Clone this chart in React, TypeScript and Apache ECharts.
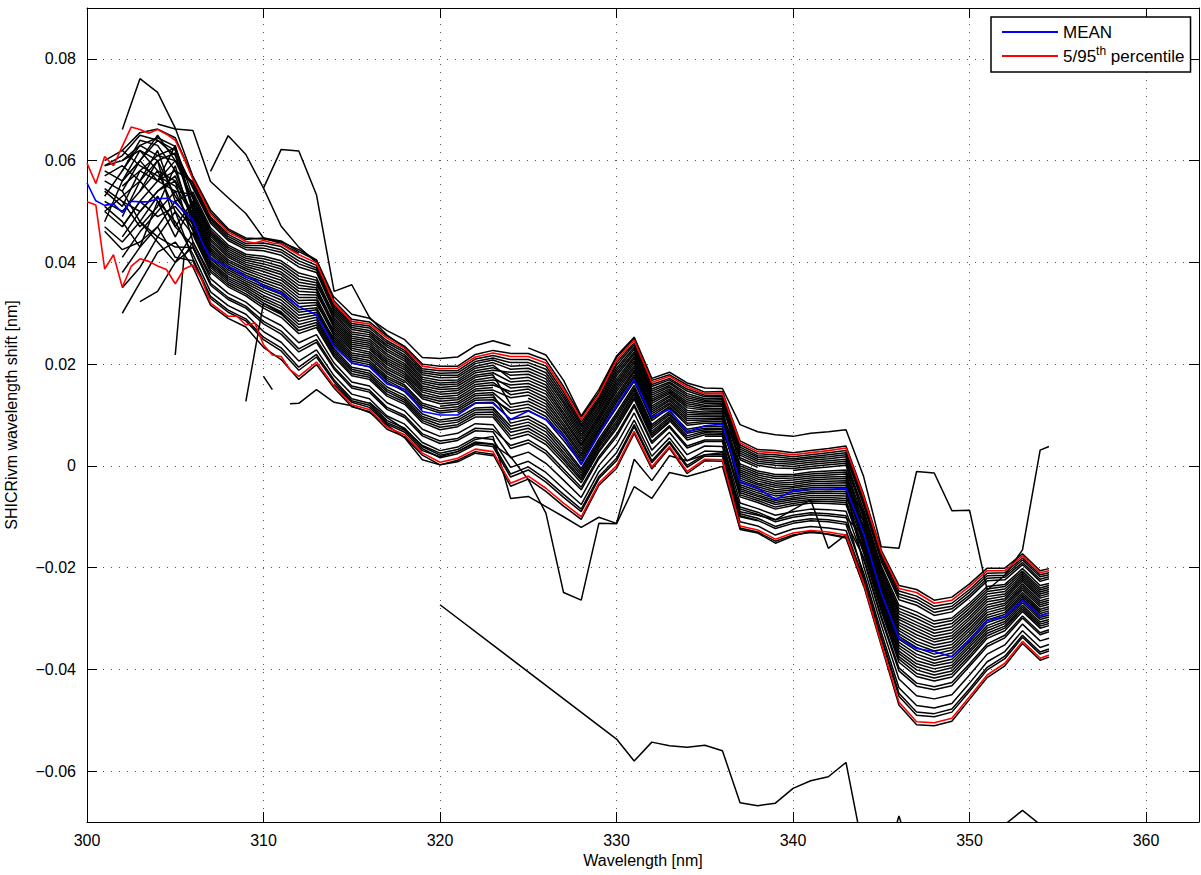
import React, { useEffect, useRef } from "react";
import * as echarts from "echarts";

// Values are in units of 1e-4 nm (converted when the series are built)
const SCALE = 1e-4;
const FONT = '"Liberation Sans", Arial, Helvetica, sans-serif';

// wavelength grid of the individual retrievals
const WL = [300,301,302,303,304,305,306,307,308,309,310,311,312,313,314,315,316,317,318,319,320,321,322,323,324,325,326,327,328,329,330,331,332,333,334,335,336,337,338,339,340,341,342,343,344,345,346,347,348,349,350,351,352,353,354,354.5];

// wavelength grid of the statistics (mean / percentiles)
const STAT_WL = [300,300.5,301,301.5,302,302.5,303,303.5,304,304.5,305,305.5,306,306.5,307,307.5,308,308.5,309,309.5,310,310.5,311,311.5,312,313,314,315,316,317,318,319,320,321,322,323,324,325,326,327,328,329,330,331,332,333,334,335,336,337,338,339,340,341,342,343,344,345,346,347,348,349,350,351,352,353,354,354.5];

const MEAN = [556,521,512,515,498,520,519,519,525,526,517,500,484,441,407,399,391,384,371,366,353,346,340,327,313,297,235,202,195,161,150,107,100,100,123,123,91,108,91,58,2,62,119,170,96,111,66,79,82,-31,-44,-66,-49,-46,-46,-44,-133,-250,-339,-359,-365,-375,-342,-304,-296,-264,-295,-289];
const P95 = [595,555,608,590,628,666,661,654,661,652,640,604,563,530,494,477,459,451,441,438,443,438,436,425,415,399,320,284,279,251,231,196,191,192,214,222,215,215,202,150,91,140,208,247,164,176,155,142,143,45,28,26,22,26,30,35,-60,-170,-241,-249,-270,-264,-237,-206,-206,-177,-210,-206];
const P5 = [519,513,387,415,351,392,407,402,393,386,358,387,395,366,320,307,294,294,277,281,238,218,215,189,176,204,157,120,111,76,61,25,7,15,33,28,-34,-20,-44,-73,-100,-34,0,68,-2,38,-11,13,12,-118,-126,-144,-132,-127,-130,-136,-231,-349,-464,-503,-505,-496,-454,-411,-388,-345,-378,-372];

// individual retrievals (on WL)
const LINES: (number | null)[][] = [
  [null,null,300,360,420,440,391,316,290,273,233,209,170,199,153,116,107,72,57,21,2,11,28,23,-40,-26,-50,-79,-105,-38,-5,64,-6,35,-15,10,9,-122,-130,-148,-136,-131,-134,-140,-235,-353,-470,-509,-511,-502,-459,-416,-393,-349,-382,-376],
  [null,461,425,440,470,410,403,329,302,285,248,226,188,214,165,128,119,85,70,34,16,24,42,38,-22,-8,-32,-62,-90,-25,10,77,6,45,-3,19,19,-110,-118,-136,-124,-119,-122,-127,-222,-340,-453,-490,-493,-484,-443,-401,-379,-337,-370,-364],
  [null,null,380,430,520,480,416,342,315,298,264,243,206,228,177,141,132,98,82,46,30,37,56,52,-3,9,-13,-45,-76,-12,26,90,19,55,10,29,28,-98,-107,-123,-113,-108,-110,-115,-210,-327,-436,-471,-476,-467,-427,-385,-365,-324,-357,-351],
  [null,560,540,480,450,430,429,355,327,310,279,259,224,243,190,153,145,111,95,59,44,50,69,67,16,27,5,-28,-62,1,42,104,31,66,22,39,38,-85,-95,-110,-101,-96,-98,-102,-137,-251,-341,-363,-376,-368,-335,-298,-288,-253,-286,-281],
  [null,null,450,500,540,560,441,368,339,322,294,276,242,258,202,165,157,124,108,72,58,64,83,81,34,45,24,-12,-47,14,57,117,44,76,35,48,48,-73,-84,-97,-90,-85,-86,-89,-184,-300,-403,-433,-440,-432,-394,-355,-338,-299,-332,-326],
  [null,520,500,540,580,500,454,381,352,334,310,292,260,272,214,177,170,137,121,85,71,77,96,96,53,62,42,5,-33,27,73,131,56,86,null,58,58,-61,-72,-85,-78,-73,-74,-76,-171,-286,-386,-414,-423,-415,-378,-339,-324,-286,-319,-314],
  [null,480,560,600,560,540,462,390,360,343,320,303,272,282,222,186,178,146,129,93,81,86,105,106,66,74,54,16,-24,36,83,140,64,93,55,65,64,-53,-64,-76,-70,-66,-66,-68,-163,-277,-375,-401,-411,-403,-367,-329,-315,-278,-311,-306],
  [null,null,520,470,510,590,471,398,368,351,330,314,284,292,230,194,187,155,138,102,90,95,114,115,78,86,67,27,-14,44,94,149,73,100,64,71,71,4,-10,-17,-17,-12,-10,-8,-103,-215,-297,-313,-329,-322,-291,-257,-252,-219,-252,-247],
  [null,570,590,560,600,530,479,407,377,359,341,326,296,302,239,202,195,164,146,111,null,104,124,125,91,98,79,39,-5,53,104,158,81,107,72,78,78,-37,-49,-59,-55,-51,-50,-51,-146,-260,-353,-376,-388,-380,-346,-308,-297,-261,-294,-289],
  [null,500,470,520,560,580,487,416,385,367,351,337,307,311,247,210,203,172,155,119,108,112,133,135,103,109,91,50,5,62,114,166,89,114,80,84,84,-28,-41,-51,-47,-43,-42,-42,-197,-313,-419,-452,-458,-450,-411,-370,-352,-311,-344,-339],
  [null,null,600,620,580,560,496,424,393,375,361,348,319,321,255,218,212,181,163,null,117,121,142,144,115,121,104,61,15,70,125,175,98,121,89,90,91,-20,-34,-42,-40,-35,-34,-33,-128,-242,-330,-351,-364,-357,-324,-288,-279,-244,-277,-272],
  [null,540,510,580,610,625,504,433,401,384,371,359,331,331,263,227,220,190,172,136,127,130,151,154,null,133,116,72,24,79,135,184,106,128,97,97,97,-12,-26,-34,-32,-28,-26,-25,-120,-233,-319,-338,-352,-345,-313,-278,-270,-236,-269,-264],
  [null,580,560,600,640,610,513,442,410,392,382,370,343,341,271,235,229,199,180,145,136,139,160,164,140,145,128,83,34,88,146,193,114,135,105,103,104,-4,-18,-25,-24,-20,-18,-16,-111,-224,-308,-325,-341,-334,-302,-267,-261,-227,-260,-255],
  [null,null,560,620,600,470,521,451,418,400,392,381,355,350,279,243,237,207,189,153,145,148,169,174,153,156,141,94,43,96,156,202,123,142,114,110,110,-45,-57,-68,-63,-58,-58,-59,-154,-268,-364,-389,-399,-392,-356,-319,-306,-269,-302,-297],
  [null,530,580,630,645,628,529,459,426,408,402,392,367,360,287,251,245,216,197,162,154,157,178,183,165,168,153,105,53,105,166,211,131,148,122,116,117,12,-3,null,-9,-5,-2,1,-94,-206,-286,-300,-317,-310,-280,-247,-242,-211,-244,-239],
  [null,null,490,560,620,520,538,468,434,416,412,403,379,370,296,259,254,225,206,170,163,165,187,193,178,180,165,117,62,114,177,220,139,155,130,123,123,21,5,1,-1,3,6,9,-86,-197,-274,-287,-305,-299,-270,-237,-233,-202,-235,-231],
  [null,590,610,650,640,620,546,477,443,425,423,414,391,380,304,268,262,234,214,179,173,174,196,203,190,192,177,128,72,123,187,229,147,162,138,129,130,29,13,9,7,11,14,18,-77,-188,-263,-274,-294,-287,-259,-226,-224,-194,-227,-222],
  [null,null,540,600,650,600,555,485,451,433,433,425,403,389,312,276,271,242,223,187,182,183,205,212,203,203,190,139,81,131,198,238,156,169,147,136,136,37,20,18,14,18,22,26,-69,-179,-252,-262,-282,-276,-248,-216,-215,-185,-218,-214],
  [null,null,620,655,662,645,567,498,463,445,448,442,421,404,324,288,283,255,235,200,196,196,219,227,221,221,208,156,96,144,213,251,168,179,159,145,146,49,32,30,26,30,34,39,-56,-166,-235,-243,-264,-258,-232,-201,-201,-173,-206,-202],
  [null,null,470,520,490,510,466,394,364,347,325,309,278,287,226,190,182,150,133,97,86,90,110,111,72,80,60,22,-19,40,88,144,68,96,59,68,67,-16,-30,-38,-36,-31,-30,-29,-142,-256,-347,-370,-382,-374,-341,-303,-292,-257,-290,-285],
  [null,545,520,500,540,570,483,411,381,363,346,332,302,307,243,206,199,168,150,115,104,108,129,130,109,115,97,56,10,66,119,170,93,117,84,87,87,-49,-60,-72,-66,-62,-62,-64,-116,-229,-313,-332,-346,-339,-308,-273,-265,-232,-265,-260],
  [null,null,null,540,600,615,500,428,397,379,366,354,325,326,259,222,216,185,167,132,122,125,147,149,134,139,122,78,29,83,140,188,110,131,101,100,100,16,1,-4,-5,-1,2,5,-133,-247,-335,-357,-370,-362,-330,-293,-283,-249,-282,-277],
  [null,500,530,560,520,450,517,446,414,396,387,376,349,346,275,239,233,203,184,149,141,143,165,169,159,162,147,100,48,100,161,206,127,145,118,113,113,-33,-45,-55,-51,-47,-46,-47,-90,-202,-280,-294,-311,-304,-275,-242,-237,-207,-240,-235],
  [null,null,410,460,500,540,533,463,430,412,407,398,373,365,291,255,249,220,201,166,159,161,183,188,184,186,171,123,67,118,182,224,143,158,134,126,126,0,-14,-21,-20,-16,-14,-12,-159,-273,-369,-395,-405,-397,-362,-324,-310,-274,-307,-302],
  [null,590,600,630,610,600,550,481,447,429,428,420,397,385,308,272,266,238,218,183,178,178,201,208,196,198,183,134,77,127,192,233,151,165,142,132,133,33,17,13,11,15,18,22,-73,-184,-257,-268,-288,-281,-254,-221,-219,-190,-223,-218],
  [null,null,null,480,440,400,458,385,356,338,315,298,266,277,218,181,174,141,125,89,76,81,101,101,59,68,48,11,-28,31,78,135,60,89,51,61,61,-57,-68,-81,-74,-69,-70,-72,-167,-282,-380,-408,-417,-409,-373,-334,-319,-282,-315,-310],
  [null,470,440,480,530,470,433,359,331,314,284,265,230,248,194,157,149,115,99,63,49,54,74,72,40,51,30,-6,-42,18,62,121,48,79,39,51,51,-94,-103,-119,-109,-104,-106,-111,-180,-296,-397,-427,-434,-426,-389,-350,-333,-295,-328,-322],
  [null,null,350,390,450,500,407,333,306,289,253,232,194,219,169,132,123,89,74,38,21,28,47,43,-16,-2,-26,-56,-85,-21,15,81,10,48,1,22,22,-81,-91,-106,-97,-92,-94,-98,-218,-336,-447,-484,-487,-478,-438,-396,-374,-333,-366,-360],
  [null,null,580,640,630,580,559,489,455,437,438,431,409,394,316,280,275,246,227,191,187,187,210,217,209,209,196,145,86,135,203,242,160,172,151,139,139,41,24,22,18,22,26,30,-65,-175,-246,-256,-276,-270,-243,-211,-210,-181,-214,-210],
  [null,510,480,430,470,520,475,402,372,355,335,320,290,297,251,214,207,176,159,123,113,116,138,140,84,92,73,33,-9,48,99,153,77,103,68,74,74,-8,-22,-30,-28,-24,-22,-21,-124,-238,-324,-345,-358,-351,-319,-283,-274,-240,-273,-268],
  [null,null,550,580,560,630,508,437,405,388,376,365,337,336,283,247,241,211,193,157,150,152,174,179,121,127,110,67,20,74,130,179,102,124,93,93,94,-41,-53,-64,-59,-54,-54,-55,-107,-220,-302,-319,-335,-328,-297,-262,-256,-223,-256,-251],
  [null,600,620,590,570,550,491,420,389,371,356,343,313,316,267,231,224,194,176,140,132,134,156,159,146,151,134,89,39,92,151,197,118,138,109,106,107,-24,-37,-47,-43,-39,-38,-38,-150,-264,-358,-383,-393,-386,-351,-314,-301,-265,-298,-293],
  [null,null,null,null,560,600,525,455,422,404,397,387,361,355,300,263,258,229,210,174,168,169,192,198,171,174,159,111,58,109,171,215,135,151,126,119,120,25,9,5,3,7,10,13,-99,-211,-291,-307,-323,-316,-286,-252,-247,-215,-248,-243],
];

// partial / outlying retrievals, [wavelength, value]
const OUT_A = [[302,661],[303,761],[304,734],[305,664],[306,569],[307,503],[308,466],[309,448],[310,446],[311,440],[312,425],[313,405],[314,330]];
const OUT_B = [[304,672],[305,662],[306,659],[307,559],[308,527],[309,496],[310,448],[311,437],[312,418]];
const OUT_C = [[310,546],[311,622],[312,619],[313,533],[314,343],[315,356],[316,292],[317,257],[318,233],[319,198]];
const OUT_D = [[307,579],[308,649],[309,612],[310,546],[311,471],[312,430],[313,400]];
const OUT_E = [[303,323],[304,343],[305,400],[306,430],[307,360]];
const OUT_F = [[305,218],[305.5,412],[306,440],[307,375]];
const OUT_G = [[309,127],[310,320],[311,300],[312,265]];
const OUT_H = [[310,176],[310.5,150]];
const OUT_I = [[311.5,122],[312,123],[313,150],[314,125],[315,118],[316,105],[317,80],[318,55],[319,12],[320,2],[321,8],[322,25],[323,20]];
const OUT_TOP = [[314,332],[315,298],[316,290],[317,266],[318,248],[319,213],[320,211],[321,214],[322,236],[323,246],[324,236],[324.5,null],[325,232],[326,218],[327,168],[328,98],[329,150],[330,216],[331,253],[332,172],[333,184],[334,163],[335,153],[336,152],[337,81],[338,67],[339,61],[340,58],[341,64],[342,67],[343,71],[344,-21],[345,-159],[346,-162],[347,-11],[348,-14],[349,-88],[350,-87],[351,-244],[352,-215],[353,-165],[354,31],[354.5,38]];
const OUT_DIP = [[314,160],[315,125],[316,115],[317,82],[318,66],[319,30],[320,18],[321,28],[322,45],[323,42],[324,18],[325,-27],[326,-93],[327,-249],[328,-264],[329,-113],[330,-114],[331,-41],[332,-64],[333,-13],[334,-21],[335,-11],[336,-1],[337,-125],[338,-132],[339,-152],[340,-138],[341,-128],[342,-135],[343,-142],[344,-236]];
const OUT_LOW = [[316,125],[317,95],[318,72],[319,40],[320,25],[321,32],[322,52],[323,58],[324,-64],[325,-60],[326,-80],[327,-100],[328,-121],[329,-101],[330,-113],[331,13],[332,-29],[333,20],[334,10],[335,22],[336,26],[337,-100],[338,-108]];
const OUT_K = [[336,30],[337,-90],[338,-97],[339,-106],[340,-86],[341,-67],[342,-162],[343,-135],[344,-226],[345,-345]];
const OUT_FAR = [[320,-273],[330,-537],[331,-580],[332,-543],[333,-550],[334,-553],[335,-549],[336,-560],[337,-662],[338,-668],[339,-663],[340,-634],[341,-619],[342,-611],[343,-583],[344,-760],[345,-810],[346,-688],[347,-800],[348,-830],[349,-840],[350,-800],[351,-760],[352,-705],[353,-677],[354,-705],[354.5,-720]];

const OUTLIERS = [OUT_A, OUT_B, OUT_C, OUT_D, OUT_E, OUT_F, OUT_G, OUT_H, OUT_I, OUT_TOP, OUT_DIP, OUT_LOW, OUT_K, OUT_FAR];

const X_MIN = 300, X_MAX = 363, X_STEP = 10;
const Y_MIN = -0.07, Y_MAX = 0.09;

function onGrid(xs: number[], ys: (number | null)[]) {
  return xs.map((x, i) => [x, ys[i] == null ? null : (ys[i] as number) * SCALE]);
}
function fromPairs(pts: (number | null)[][]) {
  return pts.map((p) => [p[0], p[1] == null ? null : (p[1] as number) * SCALE]);
}

function blackSeries(data: any[]) {
  return {
    type: "line",
    data,
    symbol: "none",
    showSymbol: false,
    silent: true,
    connectNulls: false,
    clip: true,
    lineStyle: { color: "#000", width: 1.5 },
    itemStyle: { color: "#000" },
    emphasis: { disabled: true },
    z: 2,
  };
}

function statSeries(name: string, color: string, ys: number[]) {
  return {
    type: "line",
    name,
    data: onGrid(STAT_WL, ys),
    symbol: "none",
    showSymbol: false,
    silent: true,
    clip: true,
    lineStyle: { color, width: 1.6 },
    itemStyle: { color },
    emphasis: { disabled: true },
    z: 4,
  };
}

const yFmt = (v: number) => {
  if (Math.abs(v) < 1e-9) return "0";
  return (v < 0 ? "\u2212" : "") + Math.abs(v).toFixed(2);
};

export default function App() {
  const ref = useRef<HTMLDivElement>(null);
  useEffect(() => {
    document.body.style.margin = "0";
    if (!ref.current) return;
    const chart = echarts.init(ref.current, undefined, { renderer: "svg" });
    const axisLine = { show: true, onZero: false, lineStyle: { color: "#000", width: 1 } };
    const axisTick = { show: true, inside: true, length: 10, lineStyle: { color: "#000", width: 1 } };
    const gridLine = { show: true, lineStyle: { color: "#555", width: 1, type: [1, 7] } };
    const label = { color: "#000", fontSize: 16, fontFamily: FONT };
    const series: any[] = [];
    LINES.forEach((ys) => series.push(blackSeries(onGrid(WL, ys))));
    OUTLIERS.forEach((pts) => series.push(blackSeries(fromPairs(pts))));
    series.push(statSeries("MEAN", "#0000ff", MEAN));
    series.push(statSeries("5/95th percentile", "#ff0000", P95));
    series.push(statSeries("5/95th percentile", "#ff0000", P5));

    chart.setOption({
      animation: false,
      backgroundColor: "#fff",
      textStyle: { fontFamily: FONT },
      grid: { left: 87, top: 8, width: 1112, height: 814, show: false, containLabel: false, outerBoundsMode: "none" },
      legend: {
        data: ["MEAN", "5/95th percentile"],
        orient: "vertical",
        left: 991,
        top: 17,
        backgroundColor: "#fff",
        borderColor: "#000",
        borderWidth: 1.5,
        borderRadius: 0,
        padding: [4, 6, 5, 11],
        itemGap: 2,
        itemWidth: 56,
        itemHeight: 2,
        icon: "rect",
        selectedMode: false,
        formatter: (name: string) => (name === "MEAN" ? "MEAN" : "5/95{sup|th} percentile"),
        textStyle: {
          color: "#000",
          fontSize: 17,
          fontFamily: FONT,
          lineHeight: 22,
          rich: { sup: { fontSize: 12, lineHeight: 12, verticalAlign: "top", fontFamily: FONT, color: "#000" } },
        },
      },
      xAxis: [
        {
          type: "value", min: X_MIN, max: X_MAX, interval: X_STEP, position: "bottom",
          axisLine, axisTick,
          axisLabel: { ...label, margin: 10, showMaxLabel: false },
          splitLine: gridLine,
          name: "Wavelength [nm]", nameLocation: "middle", nameGap: 28,
          nameTextStyle: { ...label },
        },
        {
          type: "value", min: X_MIN, max: X_MAX, interval: X_STEP, position: "top",
          axisLine, axisTick, axisLabel: { show: false }, splitLine: { show: false },
        },
      ],
      yAxis: [
        {
          type: "value", min: Y_MIN, max: Y_MAX, splitNumber: 8, position: "left",
          axisLine, axisTick,
          axisLabel: { ...label, margin: 11, formatter: yFmt, showMinLabel: false, showMaxLabel: false },
          splitLine: gridLine,
          name: "SHICRivm wavelength shift [nm]", nameLocation: "middle", nameGap: 68, nameRotate: 90,
          nameTextStyle: { ...label },
        },
        {
          type: "value", min: Y_MIN, max: Y_MAX, splitNumber: 8, position: "right",
          axisLine, axisTick, axisLabel: { show: false }, splitLine: { show: false },
        },
      ],
      series,
    });
    return () => chart.dispose();
  }, []);
  return <div ref={ref} style={{ width: 1201, height: 875 }} />;
}
